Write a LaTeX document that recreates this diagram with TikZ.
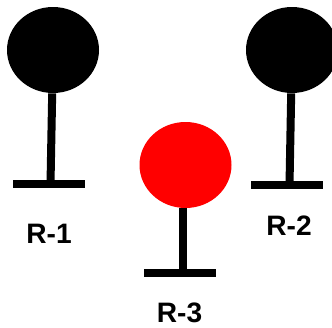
\documentclass[tikz,border=0pt]{standalone}
\usepackage{fontspec}
\setmainfont{Liberation Sans}
\usetikzlibrary{shapes}
\tikzset{
  head/.style={ellipse, fill, inner sep=0pt, minimum width=1.84cm, minimum height=1.72cm},
  foot/.style={rectangle, fill=black, inner sep=0pt, minimum width=1.44cm, minimum height=.16cm},
  pole/.style={line width=.16cm},
  tag/.style={font=\fontsize{16}{18}\selectfont\bfseries, inner sep=0pt}
}

\begin{document}
\begin{tikzpicture}
\useasboundingbox (0,0) rectangle (6.64,6.54);
\clip (0,0) rectangle (6.64,6.54);

\node[head, color=black] (H1) at (1.06,5.54) {};
\node[head, color=black] (H2) at (5.84,5.54) {};
\node[head, color=red]   (H3) at (3.71,3.24) {};

\node[foot] (B1) at (.97,2.86) {};
\node[foot] (B2) at (5.74,2.84) {};
\node[foot] (B3) at (3.6,1.09) {};

\coordinate (F1) at (1.01,2.86);
\coordinate (F2) at (5.79,2.84);
\coordinate (F3) at (3.65,1.09);

\draw[pole] (H1) -- (F1);
\draw[pole] (H2) -- (F2);
\draw[pole, shorten <=-.01cm] (F3 |- H3.south) -- (F3);

\node[tag] (R1) at (.98,1.86) {R-1};
\node[tag] (R2) at (5.78,2.02) {R-2};
\node[tag] (R3) at (3.59,.28) {R-3};
\end{tikzpicture}
\end{document}
